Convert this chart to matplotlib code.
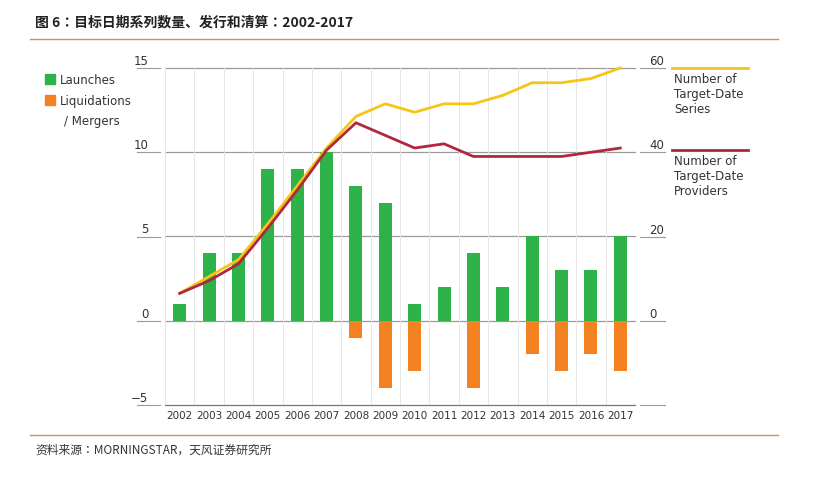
import numpy as np
import matplotlib.pyplot as plt

plt.rcParams['font.family'] = ['DejaVu Sans', 'Noto Sans CJK JP']
cjk = 'Noto Sans CJK JP'

years = ['2002', '2003', '2004', '2005', '2006', '2007', '2008', '2009',
         '2010', '2011', '2012', '2013', '2014', '2015', '2016', '2017']
launches = [1, 4, 4, 9, 9, 10, 8, 7, 1, 2, 4, 2, 5, 3, 3, 5]
liquidations = [0, 0, 0, 0, 0, 0, -1, -4, -3, 0, -4, 0, -2, -3, -2, -3]
series_count = [6.5, 10.5, 14.5, 23, 32, 41, 48.5, 51.5, 49.5, 51.5, 51.5, 53.5, 56.5, 56.5, 57.5, 60]
providers = [6.5, 9.5, 13.5, 22, 31, 40.5, 47, 44, 41, 42, 39, 39, 39, 39, 40, 41]

green = '#2db34a'
orange = '#f58220'
yellow = '#f5c518'
red = '#b0283c'

fig = plt.figure(figsize=(8.13, 4.78), dpi=100)
ax_top, ax_bot = 68, 405
ax = fig.add_axes([165 / 813, 1 - ax_bot / 478, 470 / 813, (ax_bot - ax_top) / 478])
x = np.arange(len(years))

ax.set_xlim(-0.5, len(years) - 0.5)
ax.set_ylim(-5, 15)
for v in [15, 10, 5, 0, -5]:
    ax.axhline(v, color='#9a9a9a' if v != -5 else '#777777', lw=0.9, zorder=0, clip_on=False)
for i in range(len(years) + 1):
    ax.axvline(i - 0.5, color='#e6e6e6', lw=0.7, zorder=0)

ax.bar(x, launches, width=0.44, color=green, zorder=2)
ax.bar(x, liquidations, width=0.44, color=orange, zorder=2)

ax2 = ax.twinx()
ax2.set_ylim(-20, 60)
ax2.plot(x, series_count, color=yellow, lw=2, zorder=3, clip_on=False)
ax2.plot(x, providers, color=red, lw=2, zorder=3)

for a in (ax, ax2):
    for s in a.spines.values():
        s.set_visible(False)
    a.tick_params(length=0, labelsize=8.5, colors='#333333')

ax.set_yticks([15, 10, 5, 0, -5])
ax.set_yticklabels(['15', '10', '5', '0', '\u22125'], va='bottom')
ax.tick_params(axis='y', pad=12)
ax.set_xticks(x)
ax.set_xticklabels(years, fontsize=7.5)
ax.tick_params(axis='x', pad=4)
ax2.set_yticks([60, 40, 20, 0])
ax2.set_yticklabels(['60', '40', '20', '0'], va='bottom')
ax2.tick_params(axis='y', pad=10)

# short tick stubs outside the axes, level with the grid lines
for v in [15, 10, 5, 0, -5]:
    yf = 1 - (ax_bot - (v + 5) * (ax_bot - ax_top) / 20) / 478
    fig.add_artist(plt.Line2D([137 / 813, 160 / 813], [yf, yf], color='#999999', lw=0.8))
    fig.add_artist(plt.Line2D([640 / 813, 665 / 813], [yf, yf], color='#999999', lw=0.8))

# legend on the left
fig.patches.append(plt.Rectangle((45 / 813, 1 - 84 / 478), 10 / 813, 10 / 478,
                                 color=green, transform=fig.transFigure))
fig.text(60 / 813, 1 - 80 / 478, 'Launches', fontsize=8.5, va='center', color='#333333')
fig.patches.append(plt.Rectangle((45 / 813, 1 - 105 / 478), 10 / 813, 10 / 478,
                                 color=orange, transform=fig.transFigure))
fig.text(60 / 813, 1 - 101 / 478, 'Liquidations', fontsize=8.5, va='center', color='#333333')
fig.text(64 / 813, 1 - 122 / 478, '/ Mergers', fontsize=8.5, va='center', color='#333333')

# right-side labels
fig.add_artist(plt.Line2D([672 / 813, 748 / 813], [1 - 68 / 478] * 2, color=yellow, lw=2))
fig.text(674 / 813, 1 - 73 / 478, 'Number of\nTarget-Date\nSeries', fontsize=8.5,
         va='top', color='#333333', linespacing=1.2)
fig.add_artist(plt.Line2D([672 / 813, 748 / 813], [1 - 150 / 478] * 2, color=red, lw=2))
fig.text(674 / 813, 1 - 155 / 478, 'Number of\nTarget-Date\nProviders', fontsize=8.5,
         va='top', color='#333333', linespacing=1.2)

# title and source
fig.text(35 / 813, 1 - 22 / 478, '图 6：目标日期系列数量、发行和清算：2002-2017',
         fontsize=10, va='center', color='#222222', fontfamily=cjk, fontweight='bold')
fig.add_artist(plt.Line2D([30 / 813, 778 / 813], [1 - 39 / 478] * 2, color='#d9903f', lw=1))
fig.add_artist(plt.Line2D([30 / 813, 778 / 813], [1 - 435 / 478] * 2, color='#d9903f', lw=1))
fig.text(35 / 813, 1 - 450 / 478, '资料来源：MORNINGSTAR，天风证券研究所',
         fontsize=8.5, va='center', color='#333333', fontfamily=cjk)

fig.savefig('out.png', dpi=100)
